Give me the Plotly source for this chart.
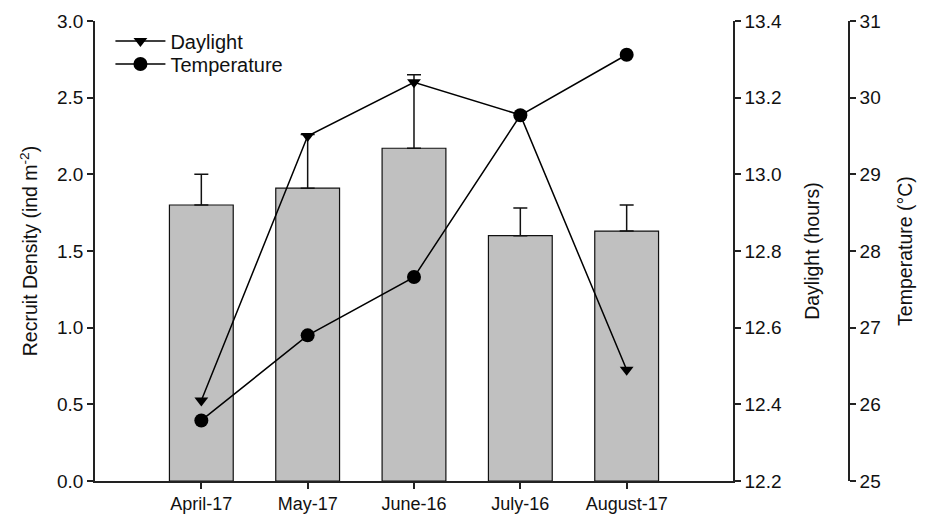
import plotly.graph_objects as go

months = ["April-17", "May-17", "June-16", "July-16", "August-17"]
density = [1.80, 1.91, 2.17, 1.60, 1.63]
density_err = [0.20, 0.35, 0.48, 0.18, 0.17]
daylight = [12.41, 13.10, 13.24, 13.155, 12.49]
temperature = [25.79, 26.90, 27.66, 29.77, 30.56]

FONT = "Liberation Sans, Arial, sans-serif"
AX = "#222222"

fig = go.Figure()
fig.add_trace(go.Bar(
    x=months, y=density, width=0.6,
    marker=dict(color="#c0c0c0", line=dict(color="#111111", width=1.2)),
    error_y=dict(type="data", array=density_err, arrayminus=[0]*len(density_err),
                 symmetric=False, color="#111111", thickness=1.5, width=7),
    showlegend=False, yaxis="y",
))
fig.add_trace(go.Scatter(
    x=months, y=daylight, name="Daylight", mode="lines+markers",
    line=dict(color="black", width=1.5),
    marker=dict(symbol="triangle-down", size=12, color="black"),
    yaxis="y2", legend="legend",
))
fig.add_trace(go.Scatter(
    x=months, y=temperature, name="Temperature", mode="lines+markers",
    line=dict(color="black", width=1.5),
    marker=dict(symbol="circle", size=14, color="black"),
    yaxis="y3", legend="legend2",
))

axcommon = dict(showgrid=False, zeroline=False, showline=True, linecolor=AX, linewidth=1.5,
                ticks="outside", ticklen=6, tickcolor=AX, tickwidth=1.5, automargin=False,
                tickfont=dict(family=FONT, size=19, color="#111111"))

legcommon = dict(x=0.019, xanchor="left", yanchor="middle", bgcolor="rgba(0,0,0,0)",
                 font=dict(family=FONT, size=20), itemwidth=50)

fig.update_layout(
    width=919, height=508,
    margin=dict(l=87, r=20, t=13, b=35),
    paper_bgcolor="white", plot_bgcolor="white",
    font=dict(family=FONT, color="#111111"),
    xaxis=dict(domain=[0, 0.7857], range=[-1, 5], **{**axcommon, "tickfont": dict(family=FONT, size=18, color="#111111")}),
    yaxis=dict(range=[0, 3], dtick=0.5, tickformat=".1f",
               title=dict(text="Recruit Density (ind m<sup>-2</sup>)", font=dict(family=FONT, size=19.5), standoff=14),
               **axcommon),
    yaxis2=dict(range=[12.2, 13.4], dtick=0.2, tickformat=".1f", overlaying="y", side="right",
                anchor="x",
                title=dict(text="Daylight (hours)", font=dict(family=FONT, size=19.5), standoff=24),
                **axcommon),
    yaxis3=dict(range=[25, 31], dtick=1, overlaying="y", side="right", anchor="free",
                position=0.9286,
                title=dict(text="Temperature (°C)", font=dict(family=FONT, size=19.5), standoff=18),
                **axcommon),
    legend=dict(y=0.9565, **legcommon),
    legend2=dict(y=0.9065, **legcommon),
    bargap=0.4,
)

fig.write_html("out.html")
